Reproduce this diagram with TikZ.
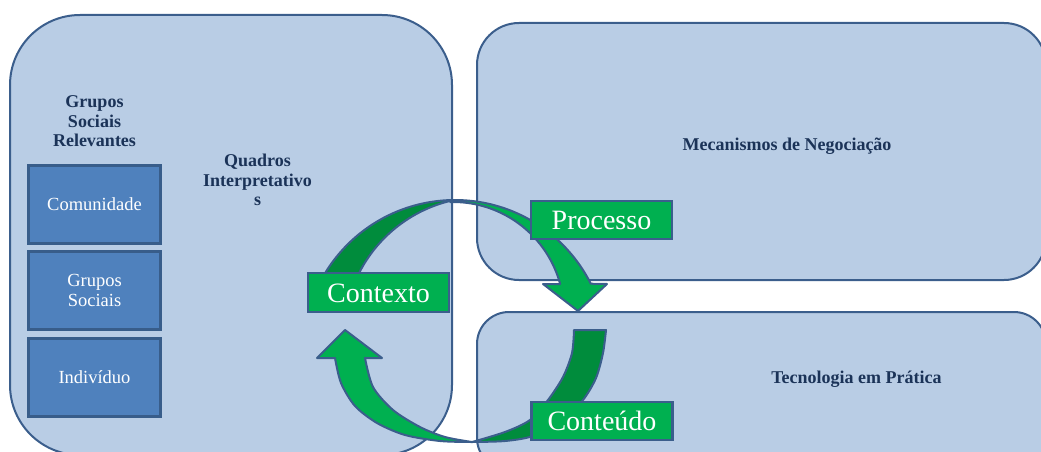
\documentclass[tikz,border=0pt]{standalone}
\usepackage{fontspec}
\setmainfont{Liberation Serif}

\definecolor{panelfill}{HTML}{B9CDE5}
\definecolor{edgeblue}{HTML}{3B5E8C}
\definecolor{groupfill}{HTML}{4F81BD}
\definecolor{groupedge}{HTML}{385D8A}
\definecolor{leafgreen}{HTML}{00B050}
\definecolor{deepgreen}{HTML}{008C3C}
\definecolor{navy}{HTML}{1B3358}

\tikzset{
  panel/.style={draw=edgeblue, fill=panelfill, line width=2pt, inner sep=0pt},
  groupbox/.style={draw=groupedge, fill=groupfill, line width=3pt,
    minimum width=132pt, minimum height=78pt, inner sep=0pt,
    text=white, align=center, font={\fontsize{18.5}{20}\selectfont}},
  phase/.style={draw=edgeblue, fill=leafgreen, line width=2.5pt,
    minimum width=141pt, minimum height=38pt, inner sep=0pt,
    text=white, font={\fontsize{28}{30}\selectfont},
    text height=19pt, text depth=0pt},
  heading/.style={text=navy, font={\fontsize{18}{19.5}\selectfont\bfseries},
    align=center, inner sep=0pt},
  arclight/.style={fill=leafgreen, draw=edgeblue, line width=2pt, line join=round},
  arcdark/.style={fill=deepgreen, draw=edgeblue, line width=2pt, line join=round},
}

\begin{document}
\begin{tikzpicture}[x=1pt,y=-1pt]
\useasboundingbox (0,0) rectangle (1041,452);
\clip (0,0) rectangle (1041,452);

% background panels
\node[panel, rounded corners=70pt, minimum width=442pt, minimum height=440pt]
  (frames) at (231,235) {};
\node[panel, rounded corners=42pt, minimum width=569pt, minimum height=257pt]
  (negot) at (761.5,151.5) {};
\node[panel, rounded corners=32pt, minimum width=569pt, minimum height=158pt]
  (practice) at (761.5,391) {};

% panel titles
\node[heading] (groupsTitle) at (94.5,121.3) {Grupos\\Sociais\\Relevantes};
\node[heading] (framesTitle) at (257.5,179.9) {Quadros\\Interpretativo\\s};
\node[heading, anchor=base] (negotTitle) at (787,150) {Mecanismos de Negociação};
\node[heading, anchor=base] (practiceTitle) at (856.5,383) {Tecnologia em Prática};

% stacked social groups
\node[groupbox] (community) at (94.5,204.5) {Comunidade};
\node[groupbox] (socialGroups) at (94.5,290.5) {Grupos\\Sociais};
\node[groupbox] (individual) at (94.5,377.5) {Indivíduo};

% upper curved arrow: back face, then front face with head
\filldraw[arcdark]
  plot[domain=-159.3:-91.9, samples=50, variable=\t] ({455+152*cos(\t)},{352+152*sin(\t)})
  -- plot[domain=-103.7:-164.2, samples=50, variable=\t] ({483+139*cos(\t)},{336+139*sin(\t)})
  -- cycle;
\filldraw[arclight]
  plot[domain=-91.9:-26.7, samples=50, variable=\t] ({455+152*cos(\t)},{352+152*sin(\t)})
  -- (607,284) -- (578,311) -- (543,284) -- (560,284)
  -- plot[domain=-15.2:-91.5, samples=50, variable=\t] ({453+111*cos(\t)},{313+111*sin(\t)})
  -- cycle;

% lower curved arrow: back face, then front face with head
\filldraw[arcdark]
  (574,330) -- (606,330)
  -- plot[smooth] coordinates {(606,330) (603,353) (596,378) (583,400) (562,421) (533,436) (505,441) (472,442)}
  -- plot[smooth] coordinates {(472,442) (505,432) (530,420) (548,400) (563,377) (572,353) (574,330)}
  -- cycle;
\filldraw[arclight]
  plot[smooth] coordinates {(472,442) (440,441) (405,435) (377,423) (355,406) (341,383) (335,358)}
  -- (317,358) -- (345,330) -- (382,358) -- (365,358)
  -- plot[smooth] coordinates {(365,358) (373,387) (393,410) (420,427) (445,437) (472,442)}
  -- cycle;

% cycle stage labels
\node[phase, minimum height=39pt] (context) at (378.5,292.5) {Contexto};
\node[phase] (process) at (601.5,220) {Processo};
\node[phase] (content) at (602,421) {Conteúdo};
\end{tikzpicture}
\end{document}
